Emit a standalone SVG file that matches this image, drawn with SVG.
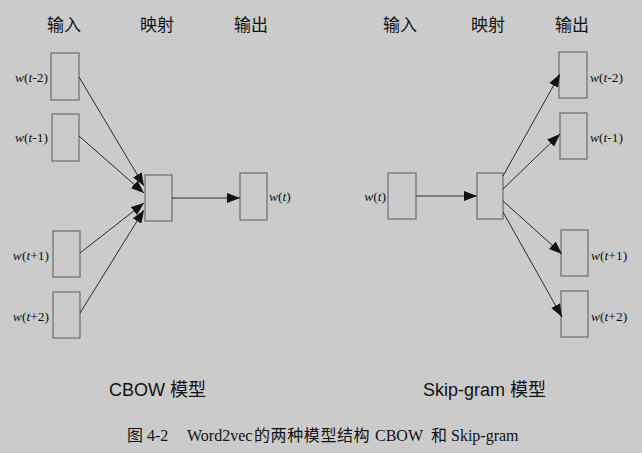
<svg xmlns="http://www.w3.org/2000/svg" width="642" height="453" viewBox="0 0 642 453">
<style>
.bg{fill:#cbcbcb}
.box{fill:none;stroke:#5a5a5a;stroke-width:1}
.hd{font-family:"Noto Sans CJK SC","Liberation Sans",sans-serif;font-size:17px;fill:#111;text-anchor:middle}
.lb{font-family:"Liberation Serif",serif;font-size:13.5px;fill:#111}
.it{font-style:italic}
.ttl{font-family:"Liberation Sans","Noto Sans CJK SC",sans-serif;font-size:18px;fill:#111}
.cap{font-family:"Liberation Serif","Noto Sans CJK SC",serif;font-size:16px;fill:#111}
.arr{stroke:#2a2a2a;stroke-width:1;fill:none;marker-end:url(#ah)}
</style>
<defs>
<marker id="ah" markerUnits="userSpaceOnUse" markerWidth="14" markerHeight="10" refX="13" refY="5" orient="auto">
<path d="M0,0 L13,5 L0,10 Z" fill="#111"/>
</marker>
</defs>
<rect class="bg" x="0" y="0" width="642" height="453"/>

<g id="headers">
<text class="hd" x="64" y="31">输入</text>
<text class="hd" x="157" y="31">映射</text>
<text class="hd" x="251" y="31">输出</text>
<text class="hd" x="400" y="31">输入</text>
<text class="hd" x="488" y="31">映射</text>
<text class="hd" x="572" y="31">输出</text>
</g>

<g id="cbow-in-t-2"><rect class="box" x="51" y="53" width="28" height="47"/><text class="lb" x="48" y="82" text-anchor="end"><tspan class="it">w</tspan>(<tspan class="it">t</tspan>-2)</text></g>
<g id="cbow-in-t-1"><rect class="box" x="52" y="114" width="27" height="47"/><text class="lb" x="48" y="142" text-anchor="end"><tspan class="it">w</tspan>(<tspan class="it">t</tspan>-1)</text></g>
<g id="cbow-in-t+1"><rect class="box" x="53" y="231" width="27" height="46"/><text class="lb" x="49" y="260" text-anchor="end"><tspan class="it">w</tspan>(<tspan class="it">t</tspan>+1)</text></g>
<g id="cbow-in-t+2"><rect class="box" x="53" y="292" width="27" height="46"/><text class="lb" x="49" y="321" text-anchor="end"><tspan class="it">w</tspan>(<tspan class="it">t</tspan>+2)</text></g>
<g id="cbow-proj"><rect class="box" x="145" y="175" width="27" height="46"/></g>
<g id="cbow-out"><rect class="box" x="240" y="173" width="27" height="47"/><text class="lb" x="269" y="201"><tspan class="it">w</tspan>(<tspan class="it">t</tspan>)</text></g>

<g id="sg-in"><rect class="box" x="388" y="173" width="28" height="46"/><text class="lb" x="386" y="201" text-anchor="end"><tspan class="it">w</tspan>(<tspan class="it">t</tspan>)</text></g>
<g id="sg-proj"><rect class="box" x="477" y="173" width="26" height="46"/></g>
<g id="sg-out-t-2"><rect class="box" x="559" y="52" width="28" height="46"/><text class="lb" x="590" y="82"><tspan class="it">w</tspan>(<tspan class="it">t</tspan>-2)</text></g>
<g id="sg-out-t-1"><rect class="box" x="560" y="113" width="27" height="46"/><text class="lb" x="590" y="142"><tspan class="it">w</tspan>(<tspan class="it">t</tspan>-1)</text></g>
<g id="sg-out-t+1"><rect class="box" x="561" y="230" width="27" height="46"/><text class="lb" x="591" y="260"><tspan class="it">w</tspan>(<tspan class="it">t</tspan>+1)</text></g>
<g id="sg-out-t+2"><rect class="box" x="561" y="291" width="27" height="46"/><text class="lb" x="591" y="321"><tspan class="it">w</tspan>(<tspan class="it">t</tspan>+2)</text></g>

<g id="connectors">
<line class="arr" x1="79" y1="77" x2="144" y2="186"/>
<line class="arr" x1="79" y1="136" x2="144" y2="193"/>
<line class="arr" x1="80" y1="253" x2="144" y2="203"/>
<line class="arr" x1="80" y1="313" x2="144" y2="210"/>
<line class="arr" x1="172" y1="198" x2="240" y2="198"/>
<line class="arr" x1="416" y1="196" x2="477" y2="196"/>
<line class="arr" x1="503" y1="176" x2="560" y2="74"/>
<line class="arr" x1="503" y1="189" x2="560" y2="134"/>
<line class="arr" x1="503" y1="201" x2="562" y2="254"/>
<line class="arr" x1="503" y1="212" x2="562" y2="317"/>
</g>

<g id="titles">
<text class="ttl" x="109" y="396">CBOW 模型</text>
<text class="ttl" x="423" y="396">Skip-gram 模型</text>
<text class="cap" y="441"><tspan x="127">图 4-2 </tspan><tspan x="187">Word2vec </tspan><tspan x="254" letter-spacing="0.6">的两种模型结构 </tspan><tspan x="375">CBOW </tspan><tspan x="431">和 Skip-gram</tspan></text>
</g>
</svg>
